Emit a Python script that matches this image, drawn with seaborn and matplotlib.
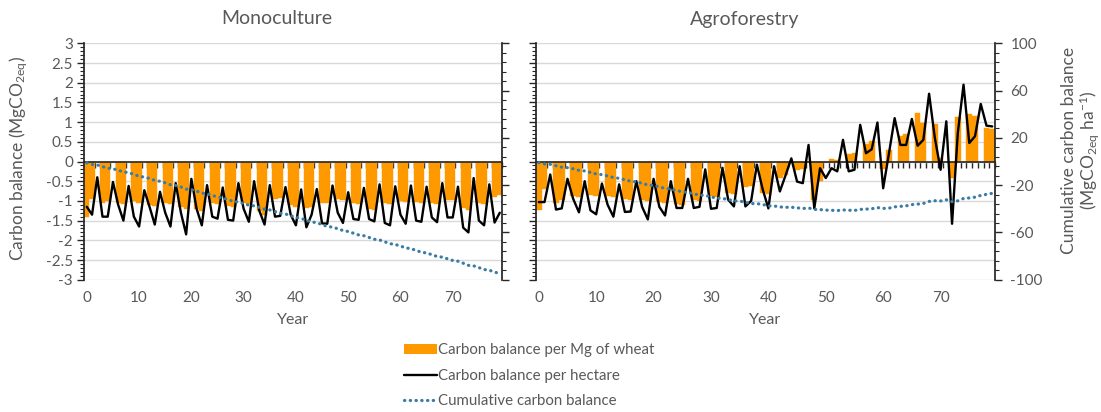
import numpy as np
import pandas as pd
import matplotlib
matplotlib.use("Agg")
import matplotlib.pyplot as plt
from matplotlib.ticker import MultipleLocator, FixedLocator, FuncFormatter
from matplotlib.lines import Line2D
from matplotlib.patches import Patch
import seaborn as sns

# ---- data -------------------------------------------------------------
years = np.arange(80)
year_ticks = [0, 10, 20, 30, 40, 50, 60, 70]

mono_per_mg = [
    -1.40, -0.95, 0.00, -1.05, -1.00, 0.00, -1.05, -1.08, 0.00, -1.00,
    -1.05, 0.00, -1.10, -1.12, 0.00, -1.05, -1.08, 0.00, -1.15, -1.20,
    0.00, -1.20, -1.25, 0.00, -1.05, -1.08, 0.00, -1.12, -1.15, 0.00,
    -1.05, -1.08, 0.00, -1.25, -1.35, 0.00, -0.95, -0.92, 0.00, -1.10,
    -1.15, 0.00, -1.18, -1.15, 0.00, -1.05, -1.05, 0.00, -0.95, -0.98,
    0.00, -1.05, -1.08, 0.00, -1.20, -1.22, 0.00, -1.05, -1.08, 0.00,
    -1.00, -1.02, 0.00, -1.03, -1.05, 0.00, -1.05, -1.08, 0.00, -0.97,
    -0.98, 0.00, -1.18, -1.22, 0.00, -1.05, -1.08, 0.00, -0.90, -0.85,
]
mono_per_ha = [
    -1.15, -1.35, -0.40, -1.40, -1.40, -0.52, -1.10, -1.50, -0.62, -1.40,
    -1.65, -0.73, -1.15, -1.60, -0.77, -1.30, -1.65, -0.55, -1.30, -1.85,
    -0.44, -1.20, -1.62, -0.60, -1.40, -1.45, -0.66, -1.48, -1.50, -0.55,
    -1.20, -1.53, -0.50, -1.25, -1.60, -0.60, -1.40, -1.38, -0.65, -1.35,
    -1.62, -0.71, -1.67, -1.35, -0.70, -1.57, -1.58, -0.61, -1.30, -1.56,
    -0.78, -1.46, -1.48, -0.67, -1.46, -1.52, -0.58, -1.56, -1.62, -0.63,
    -1.35, -1.58, -0.61, -1.50, -1.53, -0.64, -1.42, -1.54, -0.55, -1.42,
    -1.42, -0.64, -1.68, -1.80, -0.42, -1.50, -1.62, -0.58, -1.55, -1.30,
]
agro_per_mg = [
    -1.22, -0.69, 0.00, -1.05, -0.97, 0.00, -0.88, -0.90, 0.00, -0.84,
    -0.88, 0.00, -0.88, -0.90, 0.00, -0.95, -0.97, 0.00, -0.97, -1.00,
    0.00, -1.02, -1.05, 0.00, -1.08, -1.10, 0.00, -0.97, -1.00, 0.00,
    -0.88, -0.90, 0.00, -0.80, -0.82, 0.00, -0.65, -0.62, 0.00, -0.80,
    -0.82, 0.00, -0.42, -0.35, 0.00, -0.22, -0.20, 0.00, -0.97, -0.50,
    0.00, 0.06, 0.03, 0.00, 0.18, 0.22, 0.00, 0.45, 0.52, 0.00,
    -0.20, 0.30, 0.00, 0.65, 0.70, 0.00, 1.23, 0.97, 0.00, 0.95,
    0.10, 0.00, -0.42, 1.14, 0.00, 1.20, 1.15, 0.00, 0.85, 0.82,
]
agro_per_ha = [
    -1.03, -1.03, -0.33, -1.22, -1.19, -0.44, -0.95, -1.29, -0.50, -1.24,
    -1.34, -0.56, -1.10, -1.40, -0.58, -1.28, -1.27, -0.50, -1.15, -1.47,
    -0.44, -1.15, -1.37, -0.50, -1.18, -1.18, -0.44, -1.18, -1.15, -0.20,
    -1.20, -1.18, -0.16, -0.97, -1.14, -0.12, -1.14, -1.00, -0.08, -0.70,
    -1.19, -0.12, -0.76, -0.35, 0.08, -0.51, -0.55, 0.42, -1.19, -0.17,
    -0.42, -0.17, -0.25, 0.55, -0.25, -0.21, 0.93, 0.21, 0.31, 0.99,
    -0.68, 0.20, 1.10, 0.42, 0.42, 1.08, 0.40, 0.55, 1.72, 0.60,
    -0.21, 1.02, -1.58, 0.72, 1.95, 0.47, 0.64, 1.46, 0.91, 0.89,
]

# ---- style ------------------------------------------------------------
sns.set_theme(style="white")
plt.rcParams["font.family"] = ["Lato", "DejaVu Sans"]
plt.rcParams["mathtext.default"] = "regular"
plt.rcParams["axes.unicode_minus"] = False

TEXT = "#595959"
ORANGE = "#FF9900"
BLUE = "#3A7CA5"
GRID = "#D9D9D9"
AXIS = "#262626"
DOTS = (0, (0.1, 1.7))

W, H = 1101, 412
fig = plt.figure(figsize=(W / 100, H / 100), dpi=100)


def frac_box(x0, x1, y_top, y_bot):
    return [x0 / W, 1 - y_bot / H, (x1 - x0) / W, (y_bot - y_top) / H]


ax_mono = fig.add_axes(frac_box(84.2, 502.4, 43.3, 279.7))
ax_agro = fig.add_axes(frac_box(535.9, 995.1, 43.3, 279.7))


def draw_panel(ax, per_mg, per_ha, left_labels, right_labels):
    df = pd.DataFrame({"year": years, "per_mg": per_mg, "per_ha": per_ha})
    df["cumulative"] = df["per_ha"].cumsum()

    ax.set_axisbelow(True)
    sns.barplot(data=df, x="year", y="per_mg", color=ORANGE, saturation=1,
                width=1.0, edgecolor=ORANGE, linewidth=0.3, ax=ax, zorder=2)
    sns.lineplot(x=df["year"].to_numpy(), y=df["per_ha"].to_numpy(), color="black",
                 lw=1.7, ax=ax, zorder=4, sort=False)

    ax.set_xlim(-0.5, 79.5)
    ax.set_ylim(-3, 3)
    ax.set_xlabel("")
    ax.set_ylabel("")

    # primary value axis
    ax.yaxis.set_major_locator(MultipleLocator(0.5))
    ax.yaxis.set_minor_locator(MultipleLocator(0.1))
    ax.yaxis.set_major_formatter(FuncFormatter(lambda v, p: f"{v:g}" if abs(v) > 1e-9 else "0"))
    ax.grid(axis="y", which="major", color=GRID, lw=1)
    ax.grid(axis="x", visible=False)
    ax.tick_params(axis="y", which="major", direction="out", length=5, width=1,
                   color=AXIS, labelsize=11, labelcolor=TEXT, pad=3,
                   left=True, labelleft=left_labels)
    ax.tick_params(axis="y", which="minor", direction="out", length=3, width=0.8,
                   color=AXIS, left=True)

    # category axis crossing at zero
    for side in ("top", "right"):
        ax.spines[side].set_visible(False)
    ax.spines["left"].set_color(AXIS)
    ax.spines["bottom"].set_position(("data", 0))
    ax.spines["bottom"].set_color(AXIS)
    ax.spines["bottom"].set_linewidth(1.2)
    ax.set_xticks(np.arange(-0.5, 80, 1))
    ax.tick_params(axis="x", which="major", direction="out", length=4, width=1,
                   color=AXIS, labelbottom=False, bottom=True)

    sec = ax.secondary_xaxis("bottom")
    sec.set_xticks(year_ticks)
    sec.set_xticklabels([str(t) for t in year_ticks])
    sec.spines["bottom"].set_visible(False)
    sec.tick_params(length=0, pad=8, labelsize=11, labelcolor=TEXT)

    # cumulative on secondary value axis
    tw = ax.twinx()
    sns.lineplot(x=df["year"].to_numpy(), y=df["cumulative"].to_numpy(), color=BLUE,
                 lw=2.3, linestyle=DOTS, dash_capstyle="round", ax=tw, zorder=5,
                 sort=False)
    tw.set_ylim(-100, 100)
    tw.set_ylabel("")
    tw.yaxis.set_major_locator(FixedLocator(np.arange(-100, 101, 40)))
    tw.yaxis.set_minor_locator(FixedLocator(np.arange(-100, 101, 8)))
    tw.yaxis.set_major_formatter(FuncFormatter(lambda v, p: f"{v:g}"))
    for side in ("top", "left", "bottom"):
        tw.spines[side].set_visible(False)
    tw.spines["right"].set_color(AXIS)
    tw.tick_params(axis="y", which="major", direction="out", length=5, width=1,
                   color=AXIS, labelsize=11, labelcolor=TEXT, pad=6,
                   right=True, labelright=right_labels)
    tw.tick_params(axis="y", which="minor", direction="out", length=3, width=0.8,
                   color=AXIS, right=True)
    tw.grid(False)
    return tw


draw_panel(ax_mono, mono_per_mg, mono_per_ha, left_labels=True, right_labels=False)
draw_panel(ax_agro, agro_per_mg, agro_per_ha, left_labels=False, right_labels=True)

# ---- text -------------------------------------------------------------
fig.text(277 / W, 1 - 19 / H, "Monoculture", ha="center", va="center",
         fontsize=14, color=TEXT)
fig.text(745 / W, 1 - 19 / H, "Agroforestry", ha="center", va="center",
         fontsize=14, color=TEXT)
fig.text(293 / W, 1 - 320 / H, "Year", ha="center", va="center", fontsize=11.5, color=TEXT)
fig.text(765 / W, 1 - 320 / H, "Year", ha="center", va="center", fontsize=11.5, color=TEXT)
fig.text(19 / W, 1 - 158 / H, "Carbon balance (MgCO$_{2eq}$)", rotation=90,
         ha="center", va="center", fontsize=12.5, color=TEXT)
fig.text(1069 / W, 1 - 150 / H, "Cumulative carbon balance", rotation=90,
         ha="center", va="center", fontsize=12.5, color=TEXT)
fig.text(1089 / W, 1 - 150 / H, "(MgCO$_{2eq}$ ha$^{-1}$)", rotation=90,
         ha="center", va="center", fontsize=12.5, color=TEXT)

handles = [
    Patch(facecolor=ORANGE, edgecolor="none"),
    Line2D([], [], color="black", lw=1.7),
    Line2D([], [], color=BLUE, lw=2.3, linestyle=DOTS, dash_capstyle="round"),
]
labels = ["Carbon balance per Mg of wheat", "Carbon balance per hectare",
          "Cumulative carbon balance"]
leg = fig.legend(handles, labels, loc="upper left", bbox_to_anchor=(404 / W, 1 - 343 / H),
                 frameon=False, fontsize=10.8, handlelength=2.2, handleheight=0.65,
                 handletextpad=0.1, labelspacing=0.78, borderaxespad=0, borderpad=0)
for t in leg.get_texts():
    t.set_color(TEXT)

fig.savefig("out.png", dpi=100)
